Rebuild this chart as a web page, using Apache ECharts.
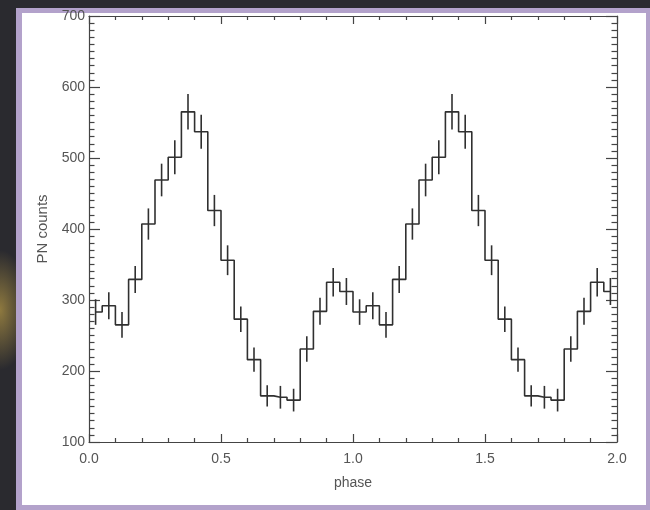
<!DOCTYPE html>
<html>
<head>
<meta charset="utf-8">
<title>PN counts vs phase</title>
<script src="https://cdn.jsdelivr.net/npm/echarts@6/dist/echarts.min.js"></script>
<style>
    html, body { margin: 0; padding: 0; }
    body {
        width: 650px; height: 510px; position: relative; overflow: hidden;
        background: radial-gradient(ellipse 30px 60px at 0px 310px, rgba(185, 155, 70, 0.7), rgba(185, 155, 70, 0) 100%), #2a2a2f;
    }
    #frame {
        position: absolute; left: 16px; top: 8px; width: 634px; height: 502px;
        box-sizing: border-box; border-style: solid; border-color: #b3a2cb;
        border-width: 5px 4px 5px 6px; background: #fff;
    }
    #chart { position: absolute; left: 0; top: 0; width: 650px; height: 510px; }
</style>
</head>
<body>
<div id="frame"></div>
<div id="chart"></div>
<script>
// one folded cycle, bin centres (20 bins of 0.05 in phase)
var phase = [0.025, 0.075, 0.125, 0.175, 0.225, 0.275, 0.325, 0.375, 0.425, 0.475,
             0.525, 0.575, 0.625, 0.675, 0.725, 0.775, 0.825, 0.875, 0.925, 0.975];
var counts = [283, 292, 265, 329, 407, 469, 501, 565, 537, 426,
              356, 273, 216, 165, 163, 159, 231, 284, 325, 312];
var errors = [18, 19, 18, 19, 22, 23, 24, 25, 24, 22,
              21, 18, 17, 15, 16, 16, 18, 19, 20, 19];
var cycles = [0, 1]; // profile drawn twice, phase 0-2
var xLabels = ['0.0', '0.5', '1.0', '1.5', '2.0'];

var ink = '#303030';
var textColor = '#555';
var font = 'Liberation Sans';

// step data + error bars for both cycles
var profile = [];
cycles.forEach(function (c) {
    phase.forEach(function (p, i) {
        profile.push([p + c, counts[i], errors[i]]);
    });
});

function axisX(position, showLabel) {
    return {
        type: 'value',
        position: position,
        min: 0,
        max: 2,
        interval: 0.5,
        name: showLabel ? 'phase' : '',
        nameLocation: 'middle',
        nameGap: 34,
        nameTextStyle: { color: textColor, fontSize: 14, fontFamily: font },
        axisLine: { show: true, onZero: false, lineStyle: { color: '#444', width: 1.2 } },
        axisTick: { show: true, inside: true, length: 8, lineStyle: { color: '#444', width: 1.2 } },
        minorTick: { show: true, splitNumber: 5, length: 4, lineStyle: { color: '#444', width: 1.2 } },
        axisLabel: {
            show: showLabel,
            margin: 10,
            color: textColor,
            fontSize: 14,
            fontFamily: font,
            formatter: function (v) { return xLabels[Math.round(v / 0.5)]; }
        },
        splitLine: { show: false },
        minorSplitLine: { show: false }
    };
}

function axisY(position, showLabel) {
    return {
        type: 'value',
        position: position,
        min: 100,
        max: 700,
        interval: 100,
        name: showLabel ? 'PN counts' : '',
        nameLocation: 'middle',
        nameGap: 37,
        nameTextStyle: { color: textColor, fontSize: 15, fontFamily: font },
        axisLine: { show: true, onZero: false, lineStyle: { color: '#444', width: 1.2 } },
        axisTick: { show: true, inside: true, length: 11, lineStyle: { color: '#444', width: 1.2 } },
        minorTick: { show: true, splitNumber: 10, length: 5.5, lineStyle: { color: '#444', width: 1.2 } },
        axisLabel: { show: showLabel, margin: 4, color: textColor, fontSize: 14, fontFamily: font },
        splitLine: { show: false },
        minorSplitLine: { show: false }
    };
}

var option = {
    animation: false,
    backgroundColor: 'transparent',
    grid: { left: 89, top: 16, width: 528, height: 426 },
    xAxis: [axisX('bottom', true), axisX('top', false)],
    yAxis: [axisY('left', true), axisY('right', false)],
    series: [
        {
            type: 'line',
            step: 'middle',
            data: profile.map(function (d) { return [d[0], d[1]]; }),
            showSymbol: false,
            lineStyle: { color: ink, width: 1.6 }
        },
        {
            type: 'custom',
            data: profile,
            renderItem: function (params, api) {
                var x = api.value(0), v = api.value(1), e = api.value(2);
                var lo = api.coord([x, v - e]);
                var hi = api.coord([x, v + e]);
                return {
                    type: 'line',
                    shape: { x1: lo[0], y1: lo[1], x2: hi[0], y2: hi[1] },
                    style: { stroke: ink, lineWidth: 1.6 }
                };
            }
        }
    ]
};

var chart = echarts.init(document.getElementById('chart'), null, { renderer: 'canvas' });
chart.setOption(option);
</script>
</body>
</html>
